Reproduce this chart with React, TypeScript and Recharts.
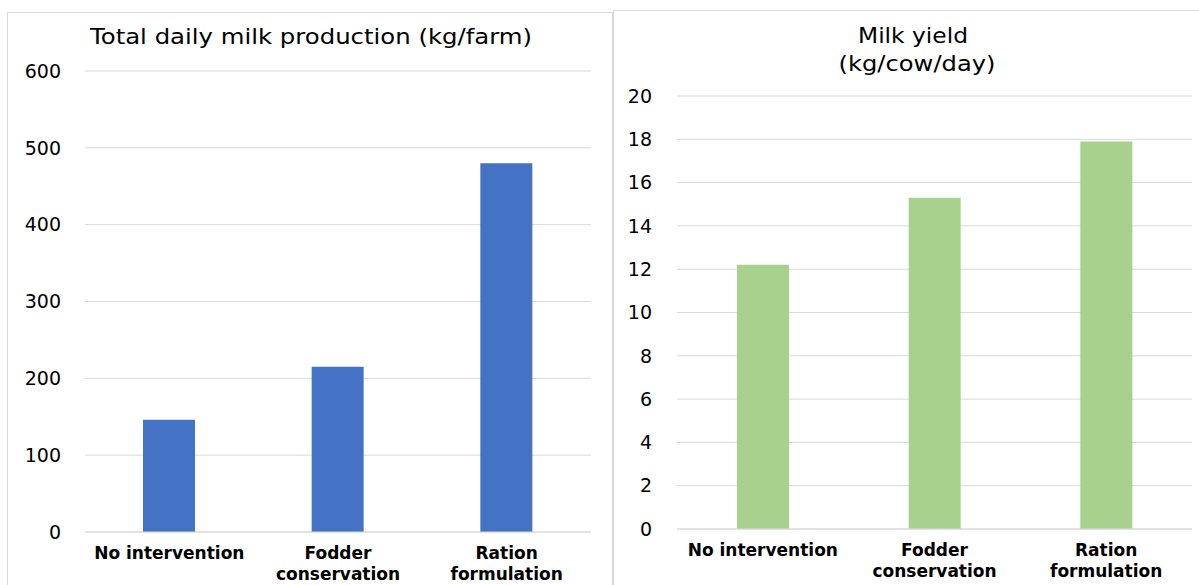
import React from "react";
import { BarChart, Bar, XAxis, YAxis, CartesianGrid } from "recharts";

const categories = ["No intervention", "Fodder conservation", "Ration formulation"];
const categoryLines = [["No intervention"], ["Fodder", "conservation"], ["Ration", "formulation"]];
const totalProduction = [146, 215, 480];
const milkYield = [12.2, 15.3, 17.9];
const leftTicks = [0, 100, 200, 300, 400, 500, 600];
const rightTicks = [0, 2, 4, 6, 8, 10, 12, 14, 16, 18, 20];

const leftData = categories.map((c, i) => ({ name: c, value: totalProduction[i] }));
const rightData = categories.map((c, i) => ({ name: c, value: milkYield[i] }));

const FONT = "'DejaVu Sans', sans-serif";

const CatTick = (props: any) => {
  const { x, y, payload } = props;
  const lines = categoryLines[payload.index] || [payload.value];
  return (
    <g transform={`translate(${x},${y})`}>
      {lines.map((l: string, i: number) => (
        <text key={i} x={0} y={19 + i * 21} textAnchor="middle" fontFamily={FONT} fontSize={17} fontWeight="bold" fill="#000">
          {l}
        </text>
      ))}
    </g>
  );
};

const panel: React.CSSProperties = {
  position: "absolute",
  border: "1px solid #D9D9D9",
  background: "#fff",
  boxSizing: "border-box",
};

const tickStyle = { fill: "#000", fontSize: 19, fontFamily: FONT };

export default function App() {
  return (
    <div style={{ position: "absolute", left: 0, top: 0, width: 1199, height: 585, background: "#fff", overflow: "hidden", fontFamily: FONT }}>
      <div style={{ ...panel, left: 7, top: 12, width: 606, height: 590 }} />
      <div style={{ ...panel, left: 613, top: 10, width: 600, height: 590 }} />
      <div style={{ position: "absolute", left: 7, top: 12 }}>
        <BarChart width={606} height={573} data={leftData} margin={{ top: 59, right: 22, bottom: 0, left: 0 }}>
          <CartesianGrid vertical={false} stroke="#D9D9D9" strokeWidth={1} />
          <XAxis dataKey="name" tick={<CatTick />} tickLine={false} axisLine={{ stroke: "#D9D9D9" }} height={53} interval={0} />
          <YAxis width={78} domain={[0, 600]} ticks={leftTicks} tickLine={false} axisLine={false} tickSize={0} tickMargin={24} tick={tickStyle} />
          <Bar dataKey="value" fill="#4472C4" barSize={52} isAnimationActive={false} />
        </BarChart>
      </div>
      <div style={{ position: "absolute", left: 613, top: 10 }}>
        <BarChart width={586} height={575} data={rightData} margin={{ top: 86, right: 7, bottom: 0, left: 0 }}>
          <CartesianGrid vertical={false} stroke="#D9D9D9" strokeWidth={1} />
          <XAxis dataKey="name" tick={<CatTick />} tickLine={false} axisLine={{ stroke: "#D9D9D9" }} height={56} interval={0} />
          <YAxis width={64} domain={[0, 20]} ticks={rightTicks} tickLine={false} axisLine={false} tickSize={0} tickMargin={25} tick={tickStyle} />
          <Bar dataKey="value" fill="#A9D18E" barSize={52} isAnimationActive={false} />
        </BarChart>
      </div>
      <svg width={1199} height={585} style={{ position: "absolute", left: 0, top: 0, pointerEvents: "none" }}>
        <text x={311} y={44} textAnchor="middle" fontFamily={FONT} fontSize={22} fill="#000" textLength={442} lengthAdjust="spacingAndGlyphs">
          Total daily milk production (kg/farm)
        </text>
        <text x={913} y={43} textAnchor="middle" fontFamily={FONT} fontSize={22} fill="#000" textLength={110} lengthAdjust="spacingAndGlyphs">
          Milk yield
        </text>
        <text x={917} y={71} textAnchor="middle" fontFamily={FONT} fontSize={22} fill="#000" textLength={157} lengthAdjust="spacingAndGlyphs">
          (kg/cow/day)
        </text>
      </svg>
    </div>
  );
}
